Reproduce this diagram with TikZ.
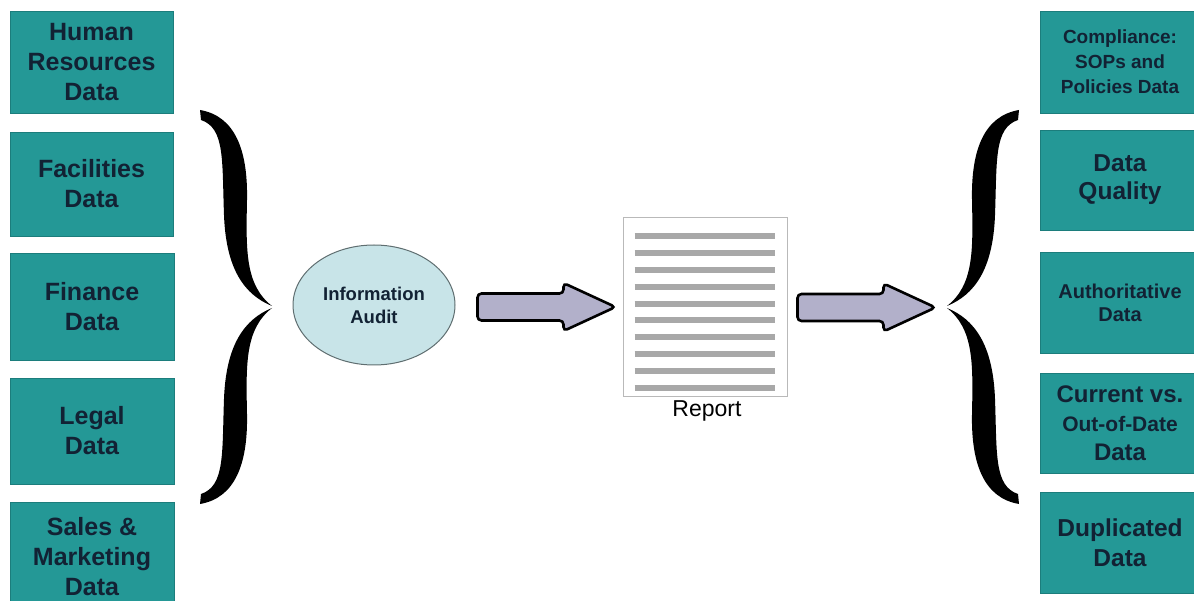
\documentclass[tikz,border=0pt]{standalone}
\usepackage{fontspec}
\setmainfont{Liberation Sans}
\usetikzlibrary{shapes.geometric,calc}
\definecolor{teal}{RGB}{36,152,150}
\definecolor{tealedge}{RGB}{28,125,124}
\definecolor{navy}{RGB}{18,34,52}
\definecolor{audfill}{RGB}{200,228,232}
\definecolor{audedge}{RGB}{95,110,112}
\definecolor{arrfill}{RGB}{178,176,202}
\definecolor{repedge}{RGB}{185,185,185}
\definecolor{repline}{RGB}{168,168,168}
\tikzset{
  databox/.style={rectangle, fill=teal, draw=tealedge, line width=0.8, text=navy,
    align=center, inner sep=0, font=\bfseries\fontsize{25}{30}\selectfont},
  curly/.pic={
    \fill (-72,-197) .. controls (-37,-191) and (-24,-157) .. (-25,-107)
      .. controls (-26,-57) and (-27,-22) .. (0,-1)
      .. controls (-27,-12) and (-46,-37) .. (-48,-92)
      .. controls (-50,-147) and (-47,-179) .. (-71,-187) -- cycle;
  },
  blockarrow/.pic={
    \draw[fill=arrfill, line width=2.6, rounded corners=4]
      (0,-13.5) -- (86,-13.5) -- (86,-24) -- (138,0) -- (86,24) -- (86,13.5) -- (0,13.5) -- cycle;
  },
  repline/.style={draw=repline, line width=6}
}
\begin{document}
\begin{tikzpicture}[x=1pt,y=-1pt]
\useasboundingbox (0,0) rectangle (1194,601);
\clip (0,0) rectangle (1194,601);

% left data boxes
\node[databox, minimum width=163, minimum height=102] (hr) at (91.5,62) {Human\\Resources\\Data};
\node[databox, minimum width=163, minimum height=104] (fac) at (91.5,184) {Facilities\\Data};
\node[databox, minimum width=164, minimum height=107] (fin) at (92,306.5) {Finance\\Data};
\node[databox, minimum width=164, minimum height=106] (leg) at (92,431) {Legal\\Data};
\node[databox, minimum width=164, minimum height=110] (sal) at (92,557) {Sales \&\\Marketing\\Data};

% right boxes
\node[databox, minimum width=160, minimum height=102, font=\bfseries\fontsize{19}{25}\selectfont] (comp) at (1120,62) {Compliance:\\SOPs and\\Policies Data};
\node[databox, minimum width=160, minimum height=100, font=\bfseries\fontsize{24.5}{28}\selectfont] (qual) at (1120,180) {Data\\Quality};
\node[databox, minimum width=160, minimum height=101, font=\bfseries\fontsize{20}{23}\selectfont] (auth) at (1120,302.5) {Authoritative\\Data};
\node[databox, minimum width=160, minimum height=100, font=\bfseries\fontsize{24}{29}\selectfont] (cur) at (1120,423) {Current vs.\\{\fontsize{21}{29}\selectfont Out-of-Date}\\Data};
\node[databox, minimum width=160, minimum height=101, font=\bfseries\fontsize{24.5}{30}\selectfont] (dup) at (1120,542.5) {Duplicated\\Data};

% braces
\coordinate (lb) at (272,307);
\coordinate (rb) at (947,307);
\pic at (lb) {curly};
\pic[yscale=-1] at (lb) {curly};
\pic[xscale=-1] at (rb) {curly};
\pic[xscale=-1,yscale=-1] at (rb) {curly};

% information audit
\node[ellipse, fill=audfill, draw=audedge, line width=1, minimum width=162, minimum height=120,
  inner sep=0, align=center, text=navy, font=\bfseries\fontsize{18.5}{23}\selectfont] (audit) at (374,305) {Information\\Audit};

% report
\node[rectangle, draw=repedge, fill=white, line width=1, minimum width=164, minimum height=179, inner sep=0] (report) at (705,307.5) {};
\foreach \i in {0,...,9}{
  \draw[repline] ($(report.north west)+(12,19+16.78*\i)$) -- ++(140,0);
}
\node[font=\fontsize{23}{27}\selectfont, text=black, inner sep=0] (replabel) at (707,411) {Report};

% block arrows
\pic at ($(audit.east)+(22,2)$) {blockarrow};
\pic at ($(report.east)+(10,0)$) {blockarrow};
\end{tikzpicture}
\end{document}
